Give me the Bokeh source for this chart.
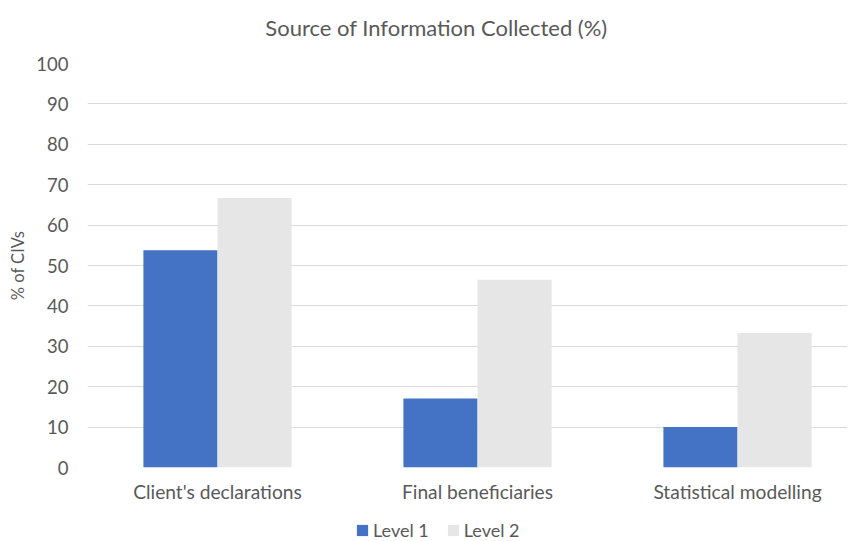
from bokeh.plotting import figure
from bokeh.layouts import column
from bokeh.models import Range1d, FixedTicker, Legend, LegendItem, ColumnDataSource, Label
from bokeh.transform import dodge
from bokeh.embed import file_html
from bokeh.resources import INLINE

title_text = "Source of Information Collected (%)"
categories = ["Client's declarations", "Final beneficiaries", "Statistical modelling"]
level1 = [53.8, 17.1, 10.0]
level2 = [66.7, 46.5, 33.3]
y_ticks = [0, 10, 20, 30, 40, 50, 60, 70, 80, 90, 100]
series_names = ["Level 1", "Level 2"]
series_colors = ["#4472C4", "#E7E6E6"]

TEXT = "#595959"
FONT = "Lato"

positions = [i + 0.5 for i in range(len(categories))]
src = ColumnDataSource(dict(pos=positions, cat=categories, level1=level1, level2=level2))


def bare(fig):
    fig.outline_line_color = None
    fig.xgrid.visible = False
    fig.ygrid.visible = False


# title strip (frame spans the strip; range = pixels)
tf = figure(width=858, height=45, output_backend="svg", toolbar_location=None,
            x_range=Range1d(0, 760), y_range=Range1d(0, 45),
            x_axis_location=None, y_axis_location=None,
            min_border_left=87, min_border_right=11, min_border_top=0, min_border_bottom=0)
bare(tf)
tf.add_layout(Label(x=349, y=18, text=title_text, text_align="center", text_baseline="middle",
                    text_font=FONT, text_font_size="22px", text_color=TEXT))

# main chart
p = figure(width=858, height=472, output_backend="svg", toolbar_location=None,
           x_range=Range1d(0, 2.923), y_range=Range1d(0, 100),
           min_border_left=87, min_border_right=11, min_border_top=18, min_border_bottom=50)

p.vbar(x=dodge("pos", -0.1425, range=p.x_range), top="level1", width=0.285, source=src,
       fill_color=series_colors[0], line_color=None)
p.vbar(x=dodge("pos", 0.1425, range=p.x_range), top="level2", width=0.285, source=src,
       fill_color=series_colors[1], line_color=None)

p.outline_line_color = None
p.xgrid.grid_line_color = None
p.ygrid.grid_line_color = "#D9D9D9"
p.ygrid.grid_line_width = 1
p.ygrid.ticker = FixedTicker(ticks=y_ticks)

ya = p.yaxis[0]
ya.ticker = FixedTicker(ticks=y_ticks)
ya.axis_line_color = None
ya.major_tick_line_color = None
ya.minor_tick_line_color = None
ya.major_tick_out = 0
ya.major_tick_in = 0
ya.major_label_standoff = 19
ya.major_label_text_font = FONT
ya.major_label_text_font_size = "18.5px"
ya.major_label_text_color = TEXT
ya.axis_label = "% of CIVs"
ya.axis_label_text_font = FONT
ya.axis_label_text_font_size = "16.5px"
ya.axis_label_text_font_style = "normal"
ya.axis_label_text_color = TEXT
ya.axis_label_standoff = 5

xa = p.xaxis[0]
xa.ticker = FixedTicker(ticks=positions)
xa.major_label_overrides = {pos: cat for pos, cat in zip(positions, categories)}
xa.axis_line_color = None
xa.major_tick_line_color = None
xa.minor_tick_line_color = None
xa.major_tick_out = 0
xa.major_tick_in = 0
xa.major_label_standoff = 12
xa.major_label_text_font = FONT
xa.major_label_text_font_size = "19.2px"
xa.major_label_text_color = TEXT

# legend strip below the chart (its key bars sit far above its visible range)
lg = figure(width=858, height=24, output_backend="svg", toolbar_location=None,
            x_range=Range1d(0, 2.923), y_range=Range1d(1000, 1001),
            x_axis_location=None, y_axis_location=None,
            min_border_left=87, min_border_right=11, min_border_top=0, min_border_bottom=0)
bare(lg)
k1 = lg.vbar(x="pos", top="level1", width=0.285, source=src, fill_color=series_colors[0], line_color=None)
k2 = lg.vbar(x="pos", top="level2", width=0.285, source=src, fill_color=series_colors[1], line_color=None)

legend = Legend(items=[LegendItem(label=series_names[0], renderers=[k1]),
                       LegendItem(label=series_names[1], renderers=[k2])],
                orientation="horizontal", location=(268, 0))
legend.border_line_color = None
legend.background_fill_color = None
legend.background_fill_alpha = 0
legend.padding = 0
legend.margin = 0
legend.glyph_width = 14
legend.glyph_height = 14
legend.label_standoff = 4
legend.spacing = 17
legend.label_text_font = FONT
legend.label_text_font_size = "18px"
legend.label_text_color = TEXT
legend.label_height = 18
lg.add_layout(legend)

layout = column(tf, p, lg, spacing=0)
open("out.html", "w").write(file_html(layout, INLINE))
